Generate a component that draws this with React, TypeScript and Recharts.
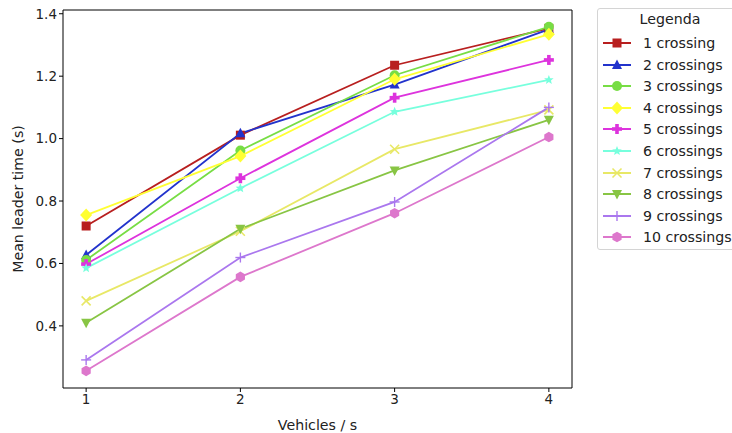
import React from "react";
import { LineChart, Line, XAxis, YAxis, ReferenceArea } from "recharts";

const xValues = [1, 2, 3, 4];
const yTicks = [0.4, 0.6, 0.8, 1.0, 1.2, 1.4];

const names = [
  "1 crossing", "2 crossings", "3 crossings", "4 crossings", "5 crossings",
  "6 crossings", "7 crossings", "8 crossings", "9 crossings", "10 crossings",
];
const colors = [
  "#b81f1f", "#2233cc", "#77dd44", "#ffff33", "#dd33dd",
  "#77ffdd", "#e8e866", "#88c544", "#aa77ee", "#dd77cc",
];
const markers = ["square", "triUp", "circle", "diamond", "plusFilled", "star", "x", "triDown", "plus", "hexagon"];

const c1 = [0.72, 1.011, 1.235, 1.353];
const c2 = [0.627, 1.017, 1.173, 1.35];
const c3 = [0.611, 0.962, 1.203, 1.358];
const c4 = [0.755, 0.944, 1.19, 1.334];
const c5 = [0.598, 0.873, 1.131, 1.252];
const c6 = [0.585, 0.841, 1.086, 1.188];
const c7 = [0.48, 0.703, 0.966, 1.092];
const c8 = [0.41, 0.711, 0.898, 1.06];
const c9 = [0.291, 0.619, 0.797, 1.1];
const c10 = [0.256, 0.557, 0.761, 1.005];
const seriesValues = [c1, c2, c3, c4, c5, c6, c7, c8, c9, c10];

const data = xValues.map((x, i) => {
  const row: Record<string, number> = { x };
  seriesValues.forEach((vals, k) => {
    row["s" + k] = vals[i];
  });
  return row;
});

function Marker({ type, cx, cy, color }: { type: string; cx: number; cy: number; color: string }) {
  switch (type) {
    case "square":
      return <rect x={cx - 4.5} y={cy - 4.5} width={9} height={9} fill={color} />;
    case "triUp":
      return <polygon points={`${cx},${cy - 5.5} ${cx - 5},${cy + 4} ${cx + 5},${cy + 4}`} fill={color} />;
    case "triDown":
      return <polygon points={`${cx},${cy + 5.5} ${cx - 5},${cy - 4} ${cx + 5},${cy - 4}`} fill={color} />;
    case "circle":
      return <circle cx={cx} cy={cy} r={5} fill={color} />;
    case "diamond":
      return <polygon points={`${cx},${cy - 6.5} ${cx + 6},${cy} ${cx},${cy + 6.5} ${cx - 6},${cy}`} fill={color} />;
    case "plusFilled":
      return (
        <g fill={color}>
          <rect x={cx - 5} y={cy - 1.8} width={10} height={3.6} />
          <rect x={cx - 1.8} y={cy - 5} width={3.6} height={10} />
        </g>
      );
    case "star": {
      const pts: string[] = [];
      for (let i = 0; i < 10; i++) {
        const r = i % 2 === 0 ? 5 : 2.2;
        const a = -Math.PI / 2 + (i * Math.PI) / 5;
        pts.push(`${cx + r * Math.cos(a)},${cy + r * Math.sin(a)}`);
      }
      return <polygon points={pts.join(" ")} fill={color} />;
    }
    case "x":
      return (
        <g stroke={color} strokeWidth={1.6}>
          <line x1={cx - 4.5} y1={cy - 4.5} x2={cx + 4.5} y2={cy + 4.5} />
          <line x1={cx - 4.5} y1={cy + 4.5} x2={cx + 4.5} y2={cy - 4.5} />
        </g>
      );
    case "plus":
      return (
        <g stroke={color} strokeWidth={1.4}>
          <line x1={cx - 5} y1={cy} x2={cx + 5} y2={cy} />
          <line x1={cx} y1={cy - 5} x2={cx} y2={cy + 5} />
        </g>
      );
    case "hexagon": {
      const pts: string[] = [];
      for (let i = 0; i < 6; i++) {
        const a = -Math.PI / 2 + (i * Math.PI) / 3;
        pts.push(`${cx + 5.3 * Math.cos(a)},${cy + 5.3 * Math.sin(a)}`);
      }
      return <polygon points={pts.join(" ")} fill={color} />;
    }
    default:
      return null;
  }
}

const FONT = "DejaVu Sans, sans-serif";

function LegendBox() {
  return (
    <div
      style={{
        position: "absolute",
        left: 597,
        top: 8,
        width: 150,
        height: 242,
        border: "1px solid #d4d4d4",
        borderRadius: 3,
        background: "#fff",
        fontFamily: FONT,
        fontSize: 14.2,
        color: "#222",
        boxSizing: "border-box",
      }}
    >
      <div style={{ position: "absolute", left: 0, width: 144, top: 2, textAlign: "center" }}>Legenda</div>
      {names.map((n, i) => (
        <div key={n} style={{ position: "absolute", left: 4, top: 25 + i * 21.6, height: 18, display: "flex", alignItems: "center" }}>
          <svg width={30} height={18} style={{ display: "block" }}>
            <line x1={1} y1={9} x2={29} y2={9} stroke={colors[i]} strokeWidth={2} />
            <Marker type={markers[i]} cx={15} cy={9} color={colors[i]} />
          </svg>
          <span style={{ marginLeft: 11, whiteSpace: "nowrap" }}>{n}</span>
        </div>
      ))}
    </div>
  );
}

export default function App() {
  return (
    <div style={{ position: "absolute", left: 0, top: 0, width: 732, height: 433, background: "#fff" }}>
      <LineChart width={732} height={433} data={data} margin={{ top: 10, right: 160, bottom: 15, left: 13 }}>
        <XAxis
          dataKey="x"
          type="number"
          domain={[0.85, 4.15]}
          ticks={xValues}
          allowDataOverflow
          axisLine={false}
          tickLine={{ stroke: "#000" }}
          tickSize={4}
          tick={{ fill: "#222", fontSize: 13.5, fontFamily: FONT }}
          height={30}
          label={{ value: "Vehicles / s", position: "insideBottom", offset: -12, fill: "#222", fontSize: 14.2, fontFamily: FONT }}
        />
        <YAxis
          type="number"
          domain={[0.201, 1.412]}
          ticks={yTicks}
          allowDataOverflow
          axisLine={false}
          tickLine={{ stroke: "#000" }}
          tickSize={4}
          width={50}
          tickFormatter={(v: number) => v.toFixed(1)}
          tick={{ fill: "#222", fontSize: 13.5, fontFamily: FONT }}
          label={{ value: "Mean leader time (s)", angle: -90, position: "insideLeft", offset: 5, fill: "#222", fontSize: 14.2, fontFamily: FONT, style: { textAnchor: "middle" } }}
        />
        <ReferenceArea x1={0.85} x2={4.15} y1={0.201} y2={1.412} fill="none" stroke="#000" strokeWidth={1} ifOverflow="visible" />
        {names.map((n, i) => (
          <Line
            key={n}
            dataKey={"s" + i}
            name={n}
            stroke={colors[i]}
            strokeWidth={1.8}
            isAnimationActive={false}
            dot={(p: any) => <Marker key={p.index} type={markers[i]} cx={p.cx} cy={p.cy} color={colors[i]} />}
            activeDot={false}
          />
        ))}
      </LineChart>
      <LegendBox />
    </div>
  );
}
